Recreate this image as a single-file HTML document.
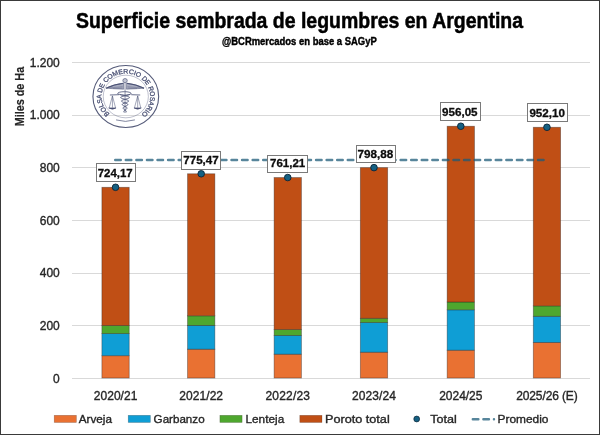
<!DOCTYPE html>
<html><head><meta charset="utf-8"><title>Superficie sembrada de legumbres en Argentina</title>
<style>html,body{margin:0;padding:0;background:#fff;}svg{display:block;}</style>
</head><body>
<svg width="600" height="435" viewBox="0 0 600 435" font-family="'Liberation Sans', Arial, sans-serif">
<rect x="0" y="0" width="600" height="435" fill="#fff"/>
<rect x="72" y="378" width="518" height="1" fill="#D9D9D9"/>
<rect x="72" y="325" width="518" height="1" fill="#D9D9D9"/>
<rect x="72" y="273" width="518" height="1" fill="#D9D9D9"/>
<rect x="72" y="220" width="518" height="1" fill="#D9D9D9"/>
<rect x="72" y="167" width="518" height="1" fill="#D9D9D9"/>
<rect x="72" y="115" width="518" height="1" fill="#D9D9D9"/>
<rect x="72" y="62" width="518" height="1" fill="#D9D9D9"/>
<text x="59.8" y="382.7" font-size="12" fill="#262626" stroke="#262626" stroke-width="0.35" text-anchor="end">0</text>
<text x="59.8" y="330.0" font-size="12" fill="#262626" stroke="#262626" stroke-width="0.35" text-anchor="end">200</text>
<text x="59.8" y="277.4" font-size="12" fill="#262626" stroke="#262626" stroke-width="0.35" text-anchor="end">400</text>
<text x="59.8" y="224.7" font-size="12" fill="#262626" stroke="#262626" stroke-width="0.35" text-anchor="end">600</text>
<text x="59.8" y="172.0" font-size="12" fill="#262626" stroke="#262626" stroke-width="0.35" text-anchor="end">800</text>
<text x="59.8" y="119.4" font-size="12" fill="#262626" stroke="#262626" stroke-width="0.35" text-anchor="end">1.000</text>
<text x="59.8" y="66.7" font-size="12" fill="#262626" stroke="#262626" stroke-width="0.35" text-anchor="end">1.200</text>
<text transform="translate(23.9,96.6) rotate(-90)" font-size="12" font-weight="bold" fill="#262626" stroke="#262626" stroke-width="0.2" text-anchor="middle" textLength="59.5" lengthAdjust="spacingAndGlyphs">Miles de Ha</text>
<rect x="101.90" y="355.70" width="27.30" height="22.30" fill="#E97132" stroke="rgba(40,30,30,0.45)" stroke-width="0.8"/>
<rect x="101.90" y="333.60" width="27.30" height="22.10" fill="#0F9ED5" stroke="rgba(40,30,30,0.45)" stroke-width="0.8"/>
<rect x="101.90" y="325.50" width="27.30" height="8.10" fill="#4EA72E" stroke="rgba(40,30,30,0.45)" stroke-width="0.8"/>
<rect x="101.90" y="187.30" width="27.30" height="138.20" fill="#C04F15" stroke="rgba(40,30,30,0.45)" stroke-width="0.8"/>
<rect x="187.55" y="349.20" width="27.30" height="28.80" fill="#E97132" stroke="rgba(40,30,30,0.45)" stroke-width="0.8"/>
<rect x="187.55" y="325.40" width="27.30" height="23.80" fill="#0F9ED5" stroke="rgba(40,30,30,0.45)" stroke-width="0.8"/>
<rect x="187.55" y="315.80" width="27.30" height="9.60" fill="#4EA72E" stroke="rgba(40,30,30,0.45)" stroke-width="0.8"/>
<rect x="187.55" y="173.79" width="27.30" height="142.01" fill="#C04F15" stroke="rgba(40,30,30,0.45)" stroke-width="0.8"/>
<rect x="274.10" y="354.20" width="27.30" height="23.80" fill="#E97132" stroke="rgba(40,30,30,0.45)" stroke-width="0.8"/>
<rect x="274.10" y="335.40" width="27.30" height="18.80" fill="#0F9ED5" stroke="rgba(40,30,30,0.45)" stroke-width="0.8"/>
<rect x="274.10" y="329.50" width="27.30" height="5.90" fill="#4EA72E" stroke="rgba(40,30,30,0.45)" stroke-width="0.8"/>
<rect x="274.10" y="177.55" width="27.30" height="151.95" fill="#C04F15" stroke="rgba(40,30,30,0.45)" stroke-width="0.8"/>
<rect x="360.35" y="352.20" width="27.30" height="25.80" fill="#E97132" stroke="rgba(40,30,30,0.45)" stroke-width="0.8"/>
<rect x="360.35" y="322.50" width="27.30" height="29.70" fill="#0F9ED5" stroke="rgba(40,30,30,0.45)" stroke-width="0.8"/>
<rect x="360.35" y="318.30" width="27.30" height="4.20" fill="#4EA72E" stroke="rgba(40,30,30,0.45)" stroke-width="0.8"/>
<rect x="360.35" y="167.63" width="27.30" height="150.67" fill="#C04F15" stroke="rgba(40,30,30,0.45)" stroke-width="0.8"/>
<rect x="447.15" y="350.20" width="27.30" height="27.80" fill="#E97132" stroke="rgba(40,30,30,0.45)" stroke-width="0.8"/>
<rect x="447.15" y="309.80" width="27.30" height="40.40" fill="#0F9ED5" stroke="rgba(40,30,30,0.45)" stroke-width="0.8"/>
<rect x="447.15" y="302.00" width="27.30" height="7.80" fill="#4EA72E" stroke="rgba(40,30,30,0.45)" stroke-width="0.8"/>
<rect x="447.15" y="126.24" width="27.30" height="175.76" fill="#C04F15" stroke="rgba(40,30,30,0.45)" stroke-width="0.8"/>
<rect x="533.30" y="342.40" width="27.30" height="35.60" fill="#E97132" stroke="rgba(40,30,30,0.45)" stroke-width="0.8"/>
<rect x="533.30" y="316.30" width="27.30" height="26.10" fill="#0F9ED5" stroke="rgba(40,30,30,0.45)" stroke-width="0.8"/>
<rect x="533.30" y="305.90" width="27.30" height="10.40" fill="#4EA72E" stroke="rgba(40,30,30,0.45)" stroke-width="0.8"/>
<rect x="533.30" y="127.28" width="27.30" height="178.62" fill="#C04F15" stroke="rgba(40,30,30,0.45)" stroke-width="0.8"/>
<line x1="115.2" y1="159.97" x2="546.8" y2="159.97" stroke="#1D5A78" stroke-opacity="0.74" stroke-width="2.4" stroke-dasharray="5.6 4.97" stroke-linecap="round"/>
<circle cx="115.55" cy="187.30" r="3.3" fill="#156082" stroke="#0B2538" stroke-width="0.9"/>
<circle cx="201.20" cy="173.79" r="3.3" fill="#156082" stroke="#0B2538" stroke-width="0.9"/>
<circle cx="287.75" cy="177.55" r="3.3" fill="#156082" stroke="#0B2538" stroke-width="0.9"/>
<circle cx="374.00" cy="167.63" r="3.3" fill="#156082" stroke="#0B2538" stroke-width="0.9"/>
<circle cx="460.80" cy="126.24" r="3.3" fill="#156082" stroke="#0B2538" stroke-width="0.9"/>
<circle cx="546.95" cy="127.28" r="3.3" fill="#156082" stroke="#0B2538" stroke-width="0.9"/>
<rect x="96.5" y="163.5" width="39" height="18" fill="#fff" stroke="#7A7A7A" stroke-width="1"/>
<text x="97.7" y="177.0" font-size="11" font-weight="bold" fill="#0D0D0D" stroke="#0D0D0D" stroke-width="0.3" textLength="35.0" lengthAdjust="spacingAndGlyphs">724,17</text>
<rect x="181.5" y="151.5" width="39" height="18" fill="#fff" stroke="#7A7A7A" stroke-width="1"/>
<text x="183.2" y="163.7" font-size="11" font-weight="bold" fill="#0D0D0D" stroke="#0D0D0D" stroke-width="0.3" textLength="35.6" lengthAdjust="spacingAndGlyphs">775,47</text>
<rect x="267.5" y="155.5" width="40" height="17" fill="#fff" stroke="#7A7A7A" stroke-width="1"/>
<text x="270.0" y="167.3" font-size="11" font-weight="bold" fill="#0D0D0D" stroke="#0D0D0D" stroke-width="0.3" textLength="35.2" lengthAdjust="spacingAndGlyphs">761,21</text>
<rect x="356.5" y="145.5" width="39" height="17" fill="#fff" stroke="#7A7A7A" stroke-width="1"/>
<text x="357.4" y="157.7" font-size="11" font-weight="bold" fill="#0D0D0D" stroke="#0D0D0D" stroke-width="0.3" textLength="35.8" lengthAdjust="spacingAndGlyphs">798,88</text>
<rect x="440.5" y="102.5" width="40" height="18" fill="#fff" stroke="#7A7A7A" stroke-width="1"/>
<text x="442.0" y="115.9" font-size="11" font-weight="bold" fill="#0D0D0D" stroke="#0D0D0D" stroke-width="0.3" textLength="35.6" lengthAdjust="spacingAndGlyphs">956,05</text>
<rect x="527.5" y="103.5" width="40" height="18" fill="#fff" stroke="#7A7A7A" stroke-width="1"/>
<text x="529.4" y="116.9" font-size="11" font-weight="bold" fill="#0D0D0D" stroke="#0D0D0D" stroke-width="0.3" textLength="35.6" lengthAdjust="spacingAndGlyphs">952,10</text>
<text x="115.55" y="400" font-size="12" fill="#262626" stroke="#262626" stroke-width="0.35" text-anchor="middle" textLength="43.7" lengthAdjust="spacing">2020/21</text>
<text x="201.20" y="400" font-size="12" fill="#262626" stroke="#262626" stroke-width="0.35" text-anchor="middle" textLength="43.7" lengthAdjust="spacing">2021/22</text>
<text x="287.75" y="400" font-size="12" fill="#262626" stroke="#262626" stroke-width="0.35" text-anchor="middle" textLength="44.5" lengthAdjust="spacing">2022/23</text>
<text x="374.00" y="400" font-size="12" fill="#262626" stroke="#262626" stroke-width="0.35" text-anchor="middle" textLength="44" lengthAdjust="spacing">2023/24</text>
<text x="460.80" y="400" font-size="12" fill="#262626" stroke="#262626" stroke-width="0.35" text-anchor="middle" textLength="43.2" lengthAdjust="spacing">2024/25</text>
<text x="546.95" y="400" font-size="12" fill="#262626" stroke="#262626" stroke-width="0.35" text-anchor="middle" textLength="61.6" lengthAdjust="spacing">2025/26 (E)</text>
<text x="76" y="28" font-size="22" font-weight="bold" fill="#000" stroke="#000" stroke-width="0.5" textLength="447" lengthAdjust="spacingAndGlyphs">Superficie sembrada de legumbres en Argentina</text>
<text x="222" y="45" font-size="10.5" font-weight="bold" fill="#000" stroke="#000" stroke-width="0.4" textLength="154.8" lengthAdjust="spacingAndGlyphs">@BCRmercados en base a SAGyP</text>
<rect x="54.2" y="415.3" width="22.2" height="7.2" fill="#E97132" stroke="rgba(40,30,30,0.35)" stroke-width="0.6"/>
<text x="78.7" y="422.7" font-size="11.6" fill="#262626" stroke="#262626" stroke-width="0.35" textLength="33.3" lengthAdjust="spacingAndGlyphs">Arveja</text>
<rect x="128.2" y="415.3" width="22.2" height="7.2" fill="#0F9ED5" stroke="rgba(40,30,30,0.35)" stroke-width="0.6"/>
<text x="153.6" y="422.7" font-size="11.6" fill="#262626" stroke="#262626" stroke-width="0.35" textLength="51" lengthAdjust="spacingAndGlyphs">Garbanzo</text>
<rect x="219.9" y="415.3" width="22.2" height="7.2" fill="#4EA72E" stroke="rgba(40,30,30,0.35)" stroke-width="0.6"/>
<text x="245.5" y="422.7" font-size="11.6" fill="#262626" stroke="#262626" stroke-width="0.35" textLength="38.7" lengthAdjust="spacingAndGlyphs">Lenteja</text>
<rect x="299.8" y="415.3" width="22.2" height="7.2" fill="#C04F15" stroke="rgba(40,30,30,0.35)" stroke-width="0.6"/>
<text x="325.1" y="422.7" font-size="11.6" fill="#262626" stroke="#262626" stroke-width="0.35" textLength="64.6" lengthAdjust="spacingAndGlyphs">Poroto total</text>
<circle cx="416.7" cy="419" r="2.9" fill="#156082" stroke="#0B2538" stroke-width="0.7"/>
<text x="430.3" y="422.7" font-size="11.6" fill="#262626" stroke="#262626" stroke-width="0.35" textLength="26.5" lengthAdjust="spacingAndGlyphs">Total</text>
<line x1="472.8" y1="419.3" x2="494" y2="419.3" stroke="#1D5A78" stroke-opacity="0.74" stroke-width="2.4" stroke-dasharray="5.6 4.97" stroke-linecap="round"/>
<text x="497.5" y="422.7" font-size="11.6" fill="#262626" stroke="#262626" stroke-width="0.35" textLength="51" lengthAdjust="spacingAndGlyphs">Promedio</text>
<g transform="translate(125.8,96.5) scale(1.06,1)" fill="none" stroke="#4B5275">
<circle r="31" stroke-width="1.05" stroke="#565C7A"/>
<circle r="21.3" stroke-width="0.5" stroke-opacity="0.7"/>
<path id="arc" d="M -15.02 17.28 A 22.9 22.9 0 1 1 15.02 17.28" fill="none" stroke="none"/>
<text font-size="6.5" fill="#4B5275" stroke="#4B5275" stroke-width="0.28" font-family="'Liberation Sans', Arial, sans-serif"><textPath href="#arc" textLength="111.1" lengthAdjust="spacing">BOLSA DE COMERCIO DE ROSARIO</textPath></text>
<path d="M -9.2 23.4 Q -0.3 26.4 8.6 23.4" stroke-width="0.8" stroke-opacity="0.85"/>
<path d="M -18.6 -8.3 Q -11 -12.3 -2.2 -13.2 L -2.0 -7.3 Q -10 -7.6 -18.6 -8.3 Z" stroke-width="0.5" fill="#a9adc0"/>
<path d="M 17.2 -8.3 Q 9.6 -12.3 0.8 -13.2 L 0.6 -7.3 Q 8.6 -7.6 17.2 -8.3 Z" stroke-width="0.5" fill="#a9adc0"/>
<path d="M -18.6 -8.3 Q -11 -12.3 -2.2 -13.2 M 17.2 -8.3 Q 9.6 -12.3 0.8 -13.2" stroke-width="1.0"/>
<path d="M -15 -8.6 L -3 -9.8 M -12 -8 L -3 -8.4 M 13.6 -8.6 L 1.6 -9.8 M 10.6 -8 L 1.6 -8.4" stroke-width="0.45" stroke-opacity="0.8"/>
<line x1="-0.7" y1="-14" x2="-0.7" y2="16" stroke-width="0.8" stroke-opacity="0.75"/>
<circle cx="-0.7" cy="-15.9" r="2.1" stroke-width="0.6" fill="#c2c6d4"/>
<path d="M 4.30 -2.50 L 3.80 -2.04 L 2.59 -1.57 L 0.89 -1.11 L -0.99 -0.65 L -2.74 -0.19 L -4.09 0.27 L -4.83 0.74 L -4.87 1.20 L -4.23 1.66 L -3.05 2.12 L -1.55 2.59 L 0.01 3.05 L 1.38 3.51 L 2.34 3.97 L 2.76 4.44 L 2.59 4.90 L 1.91 5.36 L 0.84 5.83 L -0.41 6.29 L -1.63 6.75 L -2.62 7.21 L -3.23 7.68 L -3.40 8.14 L -3.12 8.60 L -2.47 9.06 L -1.58 9.53 L -0.63 9.99 L 0.24 10.45 L 0.88 10.91 L 1.20 11.38 L 1.19 11.84 L 0.88 12.30 L 0.34 12.76 L -0.30 13.22 L -0.93 13.69 L -1.45 14.15 L -1.78 14.61 L -1.88 15.07 L -1.77 15.54 L -1.51 16.00" stroke-width="0.8"/>
<path d="M -5.70 -2.50 L -5.20 -2.04 L -3.99 -1.57 L -2.29 -1.11 L -0.41 -0.65 L 1.34 -0.19 L 2.69 0.27 L 3.43 0.74 L 3.47 1.20 L 2.83 1.66 L 1.65 2.12 L 0.15 2.59 L -1.41 3.05 L -2.78 3.51 L -3.74 3.97 L -4.16 4.44 L -3.99 4.90 L -3.31 5.36 L -2.24 5.83 L -0.99 6.29 L 0.23 6.75 L 1.22 7.21 L 1.83 7.68 L 2.00 8.14 L 1.72 8.60 L 1.07 9.06 L 0.18 9.53 L -0.77 9.99 L -1.64 10.45 L -2.28 10.91 L -2.60 11.38 L -2.59 11.84 L -2.28 12.30 L -1.74 12.76 L -1.10 13.22 L -0.47 13.69 L 0.05 14.15 L 0.38 14.61 L 0.48 15.07 L 0.37 15.54 L 0.11 16.00" stroke-width="0.8"/>
<ellipse cx="-1.2999999999999998" cy="-3.1" rx="6.3" ry="1.7" stroke-width="0.8"/>
<path d="M -15 -1.5 L -6.5 -1.8 M 5.1 -1.8 L 13.6 -1.5" stroke-width="0.8"/>
<path d="M -12.6 -0.6 L -15.6 11.2 M -12.6 -0.6 L -9.7 11.2 M -12.6 -0.6 L -12.6 11.2" stroke-width="0.5"/>
<path d="M -16.1 11.4 Q -12.6 13.9 -9.2 11.4 Z" stroke-width="0.6" fill="#4B5275"/>
<path d="M 11.2 -0.6 L 8.2 11.2 M 11.2 -0.6 L 14.1 11.2 M 11.2 -0.6 L 11.2 11.2" stroke-width="0.5"/>
<path d="M 7.699999999999999 11.4 Q 11.2 13.9 14.6 11.4 Z" stroke-width="0.6" fill="#4B5275"/>
</g>
<rect x="0.5" y="0.5" width="599" height="434" fill="none" stroke="#3A3A3A" stroke-width="1"/>
</svg>
</body></html>
